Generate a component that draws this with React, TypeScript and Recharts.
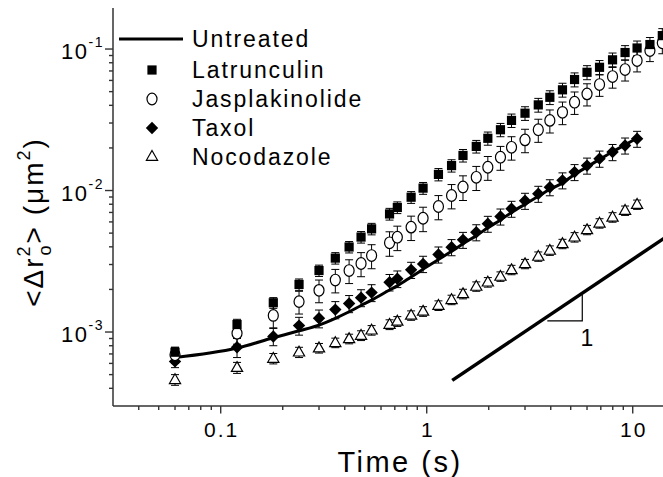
import React from 'react';
import { ComposedChart, Scatter, Line, XAxis, YAxis, ErrorBar, ReferenceDot } from 'recharts';

// ---------------- data ----------------
const times = [0.06, 0.12, 0.18, 0.24, 0.3, 0.36, 0.42, 0.48, 0.54, 0.66, 0.72, 0.84, 0.96, 1.14, 1.32, 1.5, 1.74, 1.98, 2.28, 2.58, 3.0, 3.48, 3.96, 4.56, 5.22, 6.0, 6.9, 7.98, 9.18, 10.5, 12.12, 13.92];

const latrunculin = [7.2e-4, 1.13e-3, 1.61e-3, 2.17e-3, 2.72e-3, 3.33e-3, 3.99e-3, 4.69e-3, 5.36e-3, 6.83e-3, 7.59e-3, 8.97e-3, 1.04e-2, 1.3e-2, 1.5e-2, 1.77e-2, 2.05e-2, 2.34e-2, 2.69e-2, 3.13e-2, 3.52e-2, 4.03e-2, 4.56e-2, 5.15e-2, 6.09e-2, 6.85e-2, 7.43e-2, 8.39e-2, 9.45e-2, 0.1017, 0.1076, 0.1244];
const latrunculinErr = [0.6e-4, 1.0e-4, 1.4e-4, 2.0e-4, 2.5e-4, 3.1e-4, 3.7e-4, 4.4e-4, 5.0e-4, 6.5e-4, 7.2e-4, 8.6e-4, 1.0e-3, 1.3e-3, 1.5e-3, 1.8e-3, 2.1e-3, 2.5e-3, 2.9e-3, 3.4e-3, 3.9e-3, 4.5e-3, 5.1e-3, 5.8e-3, 6.9e-3, 7.8e-3, 8.6e-3, 9.8e-3, 1.12e-2, 1.22e-2, 1.3e-2, 1.5e-2];

const jasplakinolide = [6.9e-4, 9.8e-4, 1.31e-3, 1.64e-3, 1.97e-3, 2.33e-3, 2.72e-3, 3.05e-3, 3.47e-3, 4.27e-3, 4.68e-3, 5.51e-3, 6.37e-3, 7.71e-3, 9.22e-3, 1.06e-2, 1.24e-2, 1.46e-2, 1.72e-2, 2.02e-2, 2.28e-2, 2.69e-2, 3.13e-2, 3.57e-2, 4.21e-2, 4.82e-2, 5.61e-2, 6.39e-2, 7.16e-2, 8.29e-2, 9.75e-2, 0.1106];
const jasplakinolideErr = [0.9e-4, 1.6e-4, 2.4e-4, 3.0e-4, 3.6e-4, 4.4e-4, 5.2e-4, 5.9e-4, 6.7e-4, 8.4e-4, 9.2e-4, 1.08e-3, 1.25e-3, 1.5e-3, 1.8e-3, 2.1e-3, 2.4e-3, 2.8e-3, 3.3e-3, 3.8e-3, 4.3e-3, 5.0e-3, 5.8e-3, 6.5e-3, 7.6e-3, 8.6e-3, 9.8e-3, 1.1e-2, 1.22e-2, 1.4e-2, 1.6e-2, 1.8e-2];

const taxol = [6.2e-4, 7.8e-4, 9.3e-4, 1.11e-3, 1.25e-3, 1.44e-3, 1.59e-3, 1.75e-3, 1.9e-3, 2.25e-3, 2.38e-3, 2.75e-3, 3.03e-3, 3.53e-3, 3.98e-3, 4.48e-3, 5.07e-3, 5.82e-3, 6.55e-3, 7.43e-3, 8.46e-3, 9.48e-3, 1.055e-2, 1.18e-2, 1.35e-2, 1.5e-2, 1.68e-2, 1.87e-2, 2.08e-2, 2.32e-2];
const taxolErr = [0.6e-4, 1.2e-4, 1.3e-4, 1.6e-4, 1.8e-4, 2.0e-4, 2.2e-4, 2.4e-4, 2.6e-4, 3.0e-4, 3.2e-4, 3.6e-4, 4.0e-4, 4.6e-4, 5.2e-4, 5.8e-4, 6.6e-4, 7.5e-4, 8.5e-4, 9.6e-4, 1.1e-3, 1.23e-3, 1.37e-3, 1.53e-3, 1.75e-3, 1.95e-3, 2.2e-3, 2.45e-3, 2.7e-3, 3.0e-3];

const nocodazole = [4.6e-4, 5.6e-4, 6.5e-4, 7.2e-4, 7.7e-4, 8.4e-4, 8.95e-4, 9.45e-4, 1.03e-3, 1.13e-3, 1.19e-3, 1.31e-3, 1.4e-3, 1.54e-3, 1.69e-3, 1.86e-3, 2.1e-3, 2.25e-3, 2.47e-3, 2.75e-3, 3.03e-3, 3.42e-3, 3.77e-3, 4.2e-3, 4.68e-3, 5.27e-3, 5.87e-3, 6.47e-3, 7.22e-3, 7.96e-3];
const nocodazoleErr = [0.4e-4, 0.5e-4, 0.55e-4, 0.6e-4, 0.6e-4, 0.65e-4, 0.7e-4, 0.75e-4, 0.8e-4, 0.9e-4, 0.95e-4, 1.0e-4, 1.1e-4, 1.2e-4, 1.3e-4, 1.45e-4, 1.6e-4, 1.75e-4, 1.9e-4, 2.1e-4, 2.3e-4, 2.6e-4, 2.9e-4, 3.2e-4, 3.6e-4, 4.0e-4, 4.5e-4, 5.0e-4, 5.5e-4, 6.0e-4];

const untreated = [6.6e-4, 7.7e-4, 9.1e-4, 1.02e-3, 1.12e-3, 1.25e-3, 1.39e-3, 1.54e-3, 1.68e-3, 1.98e-3, 2.12e-3, 2.45e-3, 2.78e-3, 3.25e-3, 3.72e-3, 4.2e-3, 4.8e-3, 5.45e-3, 6.2e-3, 7.0e-3, 8.0e-3, 9.1e-3, 1.02e-2, 1.13e-2, 1.3e-2, 1.47e-2, 1.66e-2, 1.88e-2, 2.1e-2, 2.35e-2];

const slopeTimes = [1.33, 15];
const slopeValues = [4.55e-4, 4.85e-3];
const triangleTimes = [3.85, 5.69, 5.69];
const triangleValues = [1.2e-3, 1.2e-3, 1.83e-3];
const slopeLabel = { t: 6.0, v: 9.1e-4, text: '1' };

const xTicks = [0.04, 0.05, 0.06, 0.07, 0.08, 0.09, 0.1, 0.2, 0.3, 0.4, 0.5, 0.6, 0.7, 0.8, 0.9, 1, 2, 3, 4, 5, 6, 7, 8, 9, 10];
const yTicks = [4e-4, 5e-4, 6e-4, 7e-4, 8e-4, 9e-4, 1e-3, 2e-3, 3e-3, 4e-3, 5e-3, 6e-3, 7e-3, 8e-3, 9e-3, 1e-2, 2e-2, 3e-2, 4e-2, 5e-2, 6e-2, 7e-2, 8e-2, 9e-2, 0.1];
const xTickLabels: Record<string, string> = { '0.1': '0.1', '1': '1', '10': '10' };

const legendItems = ['Untreated', 'Latrunculin', 'Jasplakinolide', 'Taxol', 'Nocodazole'];

// --------------- helpers ---------------
const withErr = (vals: number[], errs: number[]) => vals.map((v, i) => ({ t: times[i], v, e: errs[i] }));
const plain = (ts: number[], vals: number[]) => vals.map((v, i) => ({ t: ts[i], v }));

const latData = withErr(latrunculin, latrunculinErr);
const jasData = withErr(jasplakinolide, jasplakinolideErr);
const taxData = withErr(taxol, taxolErr);
const nocData = withErr(nocodazole, nocodazoleErr);
const untData = plain(times, untreated);
const slopeData = plain(slopeTimes, slopeValues);
const triData = plain(triangleTimes, triangleValues);

const FONT = '"Liberation Sans", Arial, Helvetica, sans-serif';
const AXIS = '#333';

const isMajor = (v: number) => Math.abs(Math.log10(v) - Math.round(Math.log10(v))) < 1e-6;

const SquareShape = (p: any) => <rect x={p.cx - 4.6} y={p.cy - 4.6} width={9.2} height={9.2} fill="#000" />;
const CircleShape = (p: any) => (
  <ellipse cx={p.cx} cy={p.cy} rx={5} ry={5.8} fill="#fff" stroke="#000" strokeWidth={1.2} />
);
const DiamondShape = (p: any) => (
  <polygon points={`${p.cx},${p.cy - 6.2} ${p.cx + 6.2},${p.cy} ${p.cx},${p.cy + 6.2} ${p.cx - 6.2},${p.cy}`} fill="#000" />
);
const TriangleShape = (p: any) => (
  <polygon
    points={`${p.cx},${p.cy - 6} ${p.cx + 5.6},${p.cy + 3.8} ${p.cx - 5.6},${p.cy + 3.8}`}
    fill="#fff"
    stroke="#000"
    strokeWidth={1.2}
  />
);

const BottomTick = (props: any) => {
  const { x, y, payload } = props;
  const major = isMajor(payload.value);
  const key = String(Math.round(payload.value * 1000) / 1000);
  return (
    <g>
      <line x1={x} x2={x} y1={y} y2={y + (major ? 7.5 : 4)} stroke={AXIS} strokeWidth={1.4} />
      {major && (
        <text x={x + 1} y={y + 31} textAnchor="middle" fontSize={21} letterSpacing={2} fontFamily={FONT} fill="#000">
          {xTickLabels[key]}
        </text>
      )}
    </g>
  );
};

const TopTick = (props: any) => {
  const { x, y, payload } = props;
  const major = isMajor(payload.value);
  return <line x1={x} x2={x} y1={y} y2={y + (major ? 7.5 : 4)} stroke={AXIS} strokeWidth={1.4} />;
};

const LeftTick = (props: any) => {
  const { x, y, payload } = props;
  const major = isMajor(payload.value);
  const exp = Math.round(Math.log10(payload.value));
  return (
    <g>
      <line x1={x - (major ? 8 : 4)} x2={x} y1={y} y2={y} stroke={AXIS} strokeWidth={1.4} />
      {major && (
        <text x={x - 9} y={y + 10} textAnchor="end" fontSize={22} letterSpacing={1.5} fontFamily={FONT} fill="#000">
          10
          <tspan fontSize={14} dy={-12}>
            {String(exp)}
          </tspan>
        </text>
      )}
    </g>
  );
};

const RightTick = (props: any) => {
  const { x, y, payload } = props;
  const major = isMajor(payload.value);
  return <line x1={x - (major ? 7.5 : 4)} x2={x} y1={y} y2={y} stroke={AXIS} strokeWidth={1.4} />;
};

const LegendBlock = () => {
  const rows = [39, 70, 99, 128, 156.5];
  const mx = 152;
  return (
    <g fontFamily={FONT}>
      <line x1={119} x2={183} y1={rows[0]} y2={rows[0]} stroke="#000" strokeWidth={3} />
      <SquareShape cx={mx} cy={rows[1]} />
      <CircleShape cx={mx} cy={rows[2]} />
      <DiamondShape cx={mx} cy={rows[3]} />
      <TriangleShape cx={mx} cy={rows[4]} />
      {legendItems.map((name, i) => (
        <text key={name} x={192} y={rows[i] + 8} fontSize={23} letterSpacing={1.9} fill="#000">
          {name}
        </text>
      ))}
    </g>
  );
};

const AxisTitles = () => (
  <g fontFamily={FONT} fill="#000">
    <text x={400} y={472} textAnchor="middle" fontSize={29} letterSpacing={2.5}>
      Time (s)
    </text>
    <text x={43} y={222} textAnchor="middle" fontSize={28} letterSpacing={2} transform="rotate(-90, 43, 222)">
      {'<\u0394r'}
      <tspan fontSize={18} dy={-13}>2</tspan>
      <tspan fontSize={18} dx={-11} dy={21}>o</tspan>
      <tspan dy={-8}>{'> (\u03bcm'}</tspan>
      <tspan fontSize={18} dy={-13}>2</tspan>
      <tspan dy={13}>)</tspan>
    </text>
  </g>
);

export default function App() {
  return (
    <div style={{ position: 'absolute', left: 0, top: 0, width: 663, height: 477, overflow: 'hidden', background: '#fff' }}>
      <ComposedChart width={700} height={477} margin={{ top: 8, right: 31, bottom: 0, left: 0 }}>
        <XAxis
          xAxisId={0}
          dataKey="t"
          type="number"
          scale="log"
          domain={[0.03, 15]}
          allowDataOverflow
          ticks={xTicks}
          interval={0}
          tickSize={0}
          tickMargin={0}
          tick={<BottomTick />}
          height={71}
          axisLine={{ stroke: AXIS, strokeWidth: 1.5 }}
        />
        <XAxis
          xAxisId="top"
          orientation="top"
          dataKey="t"
          type="number"
          scale="log"
          domain={[0.03, 15]}
          allowDataOverflow
          ticks={xTicks}
          interval={0}
          tickSize={0}
          tickMargin={0}
          tick={<TopTick />}
          height={0}
          axisLine={{ stroke: AXIS, strokeWidth: 1.5 }}
        />
        <YAxis
          yAxisId={0}
          dataKey="v"
          type="number"
          scale="log"
          domain={[3e-4, 0.195]}
          allowDataOverflow
          ticks={yTicks}
          interval={0}
          tickSize={0}
          tickMargin={0}
          tick={<LeftTick />}
          width={113}
          axisLine={{ stroke: AXIS, strokeWidth: 1.5 }}
        />
        <YAxis
          yAxisId="right"
          orientation="right"
          dataKey="v"
          type="number"
          scale="log"
          domain={[3e-4, 0.195]}
          allowDataOverflow
          ticks={yTicks}
          interval={0}
          tickSize={0}
          tickMargin={0}
          tick={<RightTick />}
          width={0}
          axisLine={{ stroke: AXIS, strokeWidth: 1.5 }}
        />

        <Line data={untData} dataKey="v" type="monotone" stroke="#000" strokeWidth={3} dot={false} isAnimationActive={false} />
        <Line data={slopeData} dataKey="v" type="linear" stroke="#000" strokeWidth={3.5} dot={false} isAnimationActive={false} />
        <Line data={triData} dataKey="v" type="linear" stroke="#000" strokeWidth={1.2} dot={false} isAnimationActive={false} />

        <Scatter data={nocData} dataKey="v" shape={TriangleShape} isAnimationActive={false}>
          <ErrorBar dataKey="e" direction="y" width={4} stroke="#000" strokeWidth={1} />
        </Scatter>
        <Scatter data={taxData} dataKey="v" shape={DiamondShape} isAnimationActive={false}>
          <ErrorBar dataKey="e" direction="y" width={4} stroke="#000" strokeWidth={1} />
        </Scatter>
        <Scatter data={jasData} dataKey="v" shape={CircleShape} isAnimationActive={false}>
          <ErrorBar dataKey="e" direction="y" width={4} stroke="#000" strokeWidth={1} />
        </Scatter>
        <Scatter data={latData} dataKey="v" shape={SquareShape} isAnimationActive={false}>
          <ErrorBar dataKey="e" direction="y" width={4} stroke="#000" strokeWidth={1} />
        </Scatter>

        <ReferenceDot
          x={slopeLabel.t}
          y={slopeLabel.v}
          r={0}
          fill="none"
          stroke="none"
          label={{ value: slopeLabel.text, position: 'center', fontSize: 23, fill: '#000', fontFamily: FONT }}
        />

        <LegendBlock />
        <AxisTitles />
      </ComposedChart>
    </div>
  );
}
